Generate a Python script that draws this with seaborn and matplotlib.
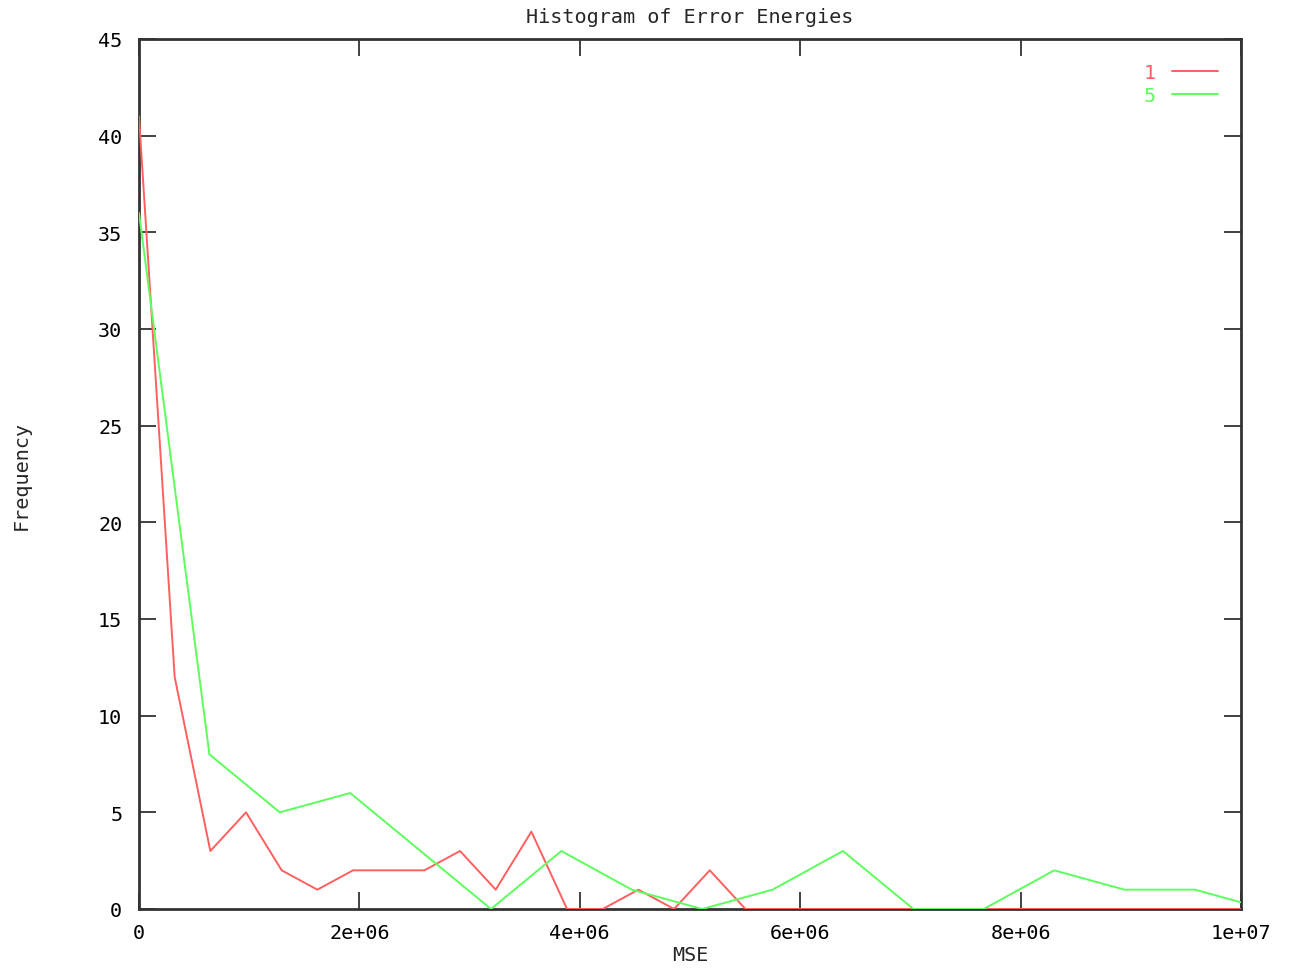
import numpy as np
import pandas as pd
import matplotlib
matplotlib.use("Agg")
import matplotlib.pyplot as plt
import seaborn as sns

# Histogram counts of MSE for two settings, sampled at equal bin spacing
bin_width_1 = 3.237e5
counts_1 = [41, 12, 3, 5, 2, 1, 2, 2, 2, 3, 1, 4, 0, 0, 1, 0, 2, 0,
            0, 0, 0, 0, 0, 0, 0, 0, 0, 0, 0, 0, 0, 0]
bin_width_5 = 6.388e5
counts_5 = [36, 8, 5, 6, 3, 0, 3, 1, 0, 1, 3, 0, 0, 2, 1, 1, 0]

series_labels = ["1", "5"]
series_colors = ["#ff5f5f", "#5cff5c"]
x_ticks = [0, 2e6, 4e6, 6e6, 8e6, 1e7]
x_tick_labels = ["0", "2e+06", "4e+06", "6e+06", "8e+06", "1e+07"]
y_ticks = list(range(0, 50, 5))

df = pd.concat([
    pd.DataFrame({"MSE": np.arange(len(counts_1)) * bin_width_1,
                  "Frequency": counts_1, "series": series_labels[0]}),
    pd.DataFrame({"MSE": np.arange(len(counts_5)) * bin_width_5,
                  "Frequency": counts_5, "series": series_labels[1]}),
])

sns.set_style("white")
plt.rcParams["font.family"] = ["DejaVu Sans Mono", "DejaVu Sans"]
fs = 14.5

fig = plt.figure(figsize=(12.95, 9.70), dpi=100)
ax = fig.add_axes([139 / 1295, 1 - 910 / 970, 1102 / 1295, 870 / 970])

sns.lineplot(data=df, x="MSE", y="Frequency", hue="series",
             palette=dict(zip(series_labels, series_colors)),
             linewidth=1.4, ax=ax, legend=True, estimator=None, zorder=3)

ax.set_xlim(0, 1e7)
ax.set_ylim(0, 45)
ax.set_xticks(x_ticks)
ax.set_xticklabels(x_tick_labels)
ax.set_yticks(y_ticks)
ax.tick_params(direction="in", length=12, width=1.3, colors="#333333",
               labelcolor="black", labelsize=fs, top=True, right=True,
               bottom=True, left=True)
ax.tick_params(axis="x", pad=10)
ax.tick_params(axis="y", pad=12)
for s in ax.spines.values():
    s.set_color("#333333")
    s.set_linewidth(2.0)
    s.set_zorder(2)

ax.set_title("Histogram of Error Energies", fontsize=fs, pad=12)
ax.set_xlabel("MSE", fontsize=fs, labelpad=2)
ax.set_ylabel("Frequency", fontsize=fs)
ax.yaxis.set_label_coords(-0.098, 0.5)

leg = ax.legend(loc="upper right", bbox_to_anchor=(0.979, 0.972),
                frameon=False, markerfirst=False, labelcolor="linecolor",
                fontsize=fs, handlelength=2.3, handletextpad=0.8,
                labelspacing=0.2, borderaxespad=0, borderpad=0)

fig.savefig("out.png", dpi=100, facecolor="white")
